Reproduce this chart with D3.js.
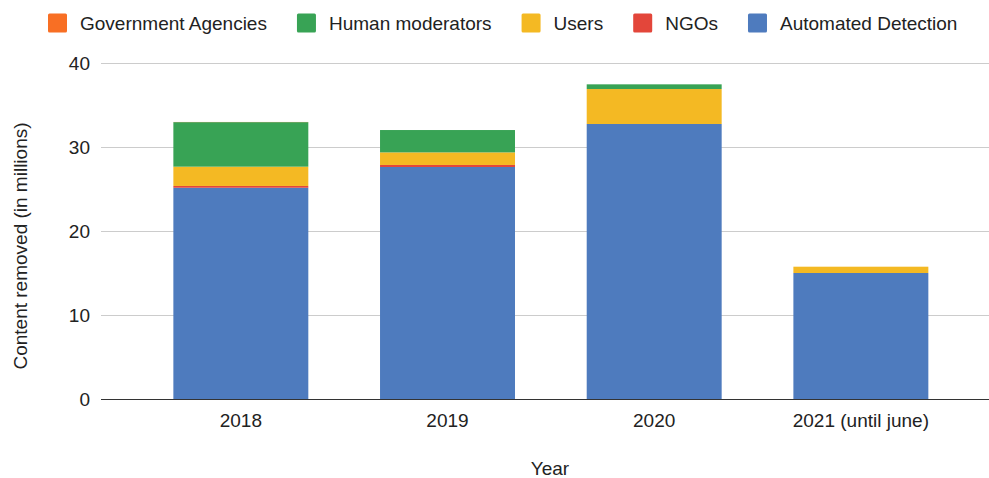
<!DOCTYPE html>
<html>
<head>
<meta charset="utf-8">
<script src="https://cdn.jsdelivr.net/npm/d3@7"></script>
<style>
  html, body { margin: 0; padding: 0; background: #fff; }
  svg { display: block; font-family: "Liberation Sans", Arial, sans-serif; }
  svg text { font-family: "Liberation Sans", Arial, sans-serif; }
</style>
</head>
<body>
<svg id="chart" width="989" height="478"></svg>
<script>
// Content removed per year, in millions, by source of the report
const years = ["2018", "2019", "2020", "2021 (until june)"];
const seriesNames = ["Government Agencies", "Human moderators", "Users", "NGOs", "Automated Detection"];
const governmentAgencies = [0.02, 0.0, 0.0, 0.0];
const humanModerators    = [5.3, 2.66, 0.56, 0.0];
const users              = [2.3, 1.5, 4.16, 0.75];
const ngos               = [0.21, 0.24, 0.0, 0.0];
const automatedDetection = [25.15, 27.62, 32.74, 15.0];
const yTicks = [0, 10, 20, 30, 40];
const colors = ["#f86f24", "#38a355", "#f4b923", "#e3463a", "#4e7bbe"];

const seriesValues = [governmentAgencies, humanModerators, users, ngos, automatedDetection];
const rows = years.map((y, i) => {
  const r = { year: y };
  seriesNames.forEach((s, k) => { r[s] = seriesValues[k][i]; });
  return r;
});

const FONT = "'Liberation Sans', Arial, sans-serif";
const FS = 19;
const svg = d3.select("#chart");
const gridLeft = 101, gridRight = 989;
const bandLeft = 137.5, bandRight = 964.2;
const yTop = 63, yBottom = 399;

const x = d3.scaleBand().domain(years).range([bandLeft, bandRight]).paddingInner(0.347).paddingOuter(0.1735);
const y = d3.scaleLinear().domain([0, 40]).range([yBottom, yTop]);
const color = d3.scaleOrdinal().domain(seriesNames).range(colors);

// Stack with Automated Detection at the bottom
const stack = d3.stack().keys(seriesNames.slice().reverse());
const layers = stack(rows);

// Gridlines
svg.append("g")
  .selectAll("line")
  .data(yTicks.filter(t => t !== 0))
  .join("line")
  .attr("x1", gridLeft).attr("x2", gridRight)
  .attr("y1", d => Math.round(y(d)) + 0.5).attr("y2", d => Math.round(y(d)) + 0.5)
  .attr("stroke", "#cccccc").attr("stroke-width", 1);

// Y axis labels
const yAxis = d3.axisLeft(y).tickValues(yTicks).tickSize(0).tickPadding(0);
const yg = svg.append("g").attr("transform", `translate(90,0)`).call(yAxis);
yg.select(".domain").remove();
yg.selectAll("text").attr("font-size", FS).attr("fill", "#222").attr("font-family", FONT);

// Bars
svg.append("g")
  .selectAll("g")
  .data(layers)
  .join("g")
  .attr("fill", d => color(d.key))
  .selectAll("rect")
  .data(d => d)
  .join("rect")
  .attr("x", d => x(d.data.year))
  .attr("width", x.bandwidth())
  .attr("y", d => y(d[1]))
  .attr("height", d => Math.max(0, y(d[0]) - y(d[1])));

// Baseline
svg.append("line")
  .attr("x1", gridLeft).attr("x2", gridRight)
  .attr("y1", Math.round(y(0)) + 0.5).attr("y2", Math.round(y(0)) + 0.5)
  .attr("stroke", "#333").attr("stroke-width", 1);

// X axis labels
const xAxis = d3.axisBottom(x).tickSize(0).tickPadding(0);
const xg = svg.append("g").attr("transform", `translate(0,${yBottom})`).call(xAxis);
xg.select(".domain").remove();
xg.selectAll("text")
  .attr("dy", null).attr("y", 27.5)
  .attr("font-size", FS).attr("fill", "#222")
  .attr("font-family", FONT);

// Axis titles
svg.append("text")
  .attr("x", (gridLeft + gridRight) / 2 + 5).attr("y", 475)
  .attr("text-anchor", "middle").attr("font-size", FS).attr("fill", "#222")
  .attr("font-family", FONT)
  .text("Year");

svg.append("text")
  .attr("transform", "translate(27,246) rotate(-90)")
  .attr("text-anchor", "middle").attr("font-size", FS).attr("fill", "#222")
  .attr("font-family", FONT)
  .text("Content removed (in millions)");

// Legend
const legend = svg.append("g").attr("transform", "translate(48,0)");
let lx = 0;
seriesNames.forEach(name => {
  const item = legend.append("g").attr("transform", `translate(${lx},0)`);
  item.append("rect")
    .attr("x", 0).attr("y", 13.5).attr("width", 19).attr("height", 19)
    .attr("rx", 1.5).attr("fill", color(name));
  const t = item.append("text")
    .attr("x", 32).attr("y", 30)
    .attr("font-size", FS).attr("fill", "#222")
    .attr("font-family", FONT)
    .text(name);
  lx += 32 + t.node().getComputedTextLength() + 30;
});
</script>
</body>
</html>
